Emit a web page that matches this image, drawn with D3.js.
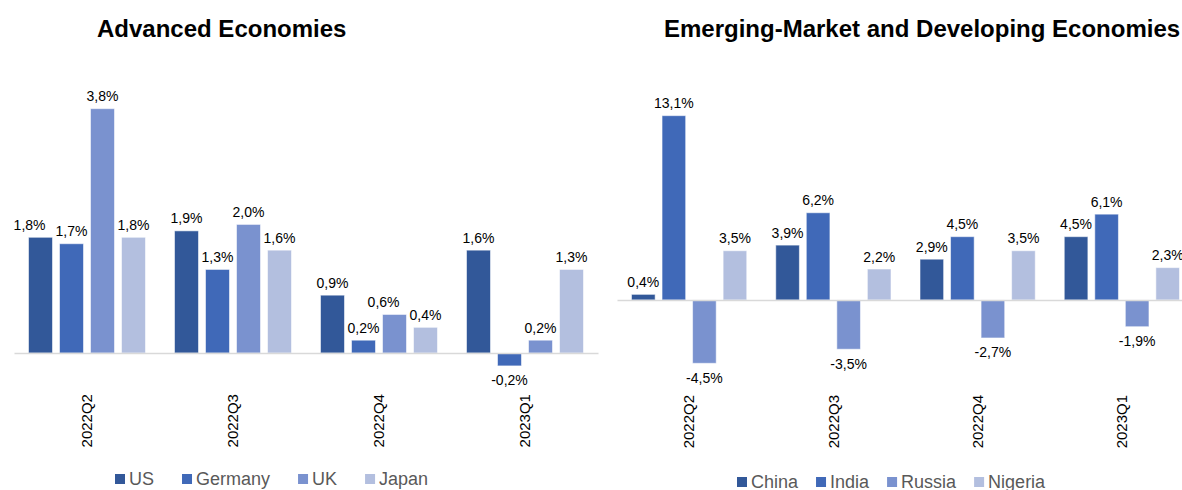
<!DOCTYPE html>
<html>
<head>
<meta charset="utf-8">
<script src="https://cdn.jsdelivr.net/npm/d3@7"></script>
<style>
  html, body { margin: 0; padding: 0; background: #fff; }
  svg { display: block; font-family: "Liberation Sans", Arial, sans-serif; }
</style>
</head>
<body>
<svg id="chart" width="1182" height="490"></svg>
<script>
// Quarter-on-quarter real GDP growth, %
const quarters = ["2022Q2", "2022Q3", "2022Q4", "2023Q1"];

const advancedNames = ["US", "Germany", "UK", "Japan"];
const usGrowth      = [1.8, 1.9, 0.9, 1.6];
const germanyGrowth = [1.7, 1.3, 0.2, -0.2];
const ukGrowth      = [3.8, 2.0, 0.6, 0.2];
const japanGrowth   = [1.8, 1.6, 0.4, 1.3];

const emergingNames = ["China", "India", "Russia", "Nigeria"];
const chinaGrowth   = [0.4, 3.9, 2.9, 4.5];
const indiaGrowth   = [13.1, 6.2, 4.5, 6.1];
const russiaGrowth  = [-4.5, -3.5, -2.7, -1.9];
const nigeriaGrowth = [3.5, 2.2, 3.5, 2.3];

const seriesColors = ["#325899", "#4069B8", "#7A92CF", "#B3BFDF"];

const svg = d3.select("#chart");

const fmt = v => (v < 0 ? "-" : "") + Math.abs(v).toFixed(1).replace(".", ",") + "%";

function drawPanel(opts) {
  const { title, titleX, names, values, xRange, yDomain, yRange,
          labelOffset, legendX, legendY, legendGap } = opts;
  const g = svg.append("g");

  const x0 = d3.scaleBand().domain(quarters).range(xRange);
  const groupPad = 14.5;
  const x1 = d3.scaleBand().domain(names)
    .range([groupPad, x0.bandwidth() - groupPad])
    .paddingInner(0.226).paddingOuter(0);
  const y = d3.scaleLinear().domain(yDomain).range(yRange);

  // title
  g.append("text")
    .attr("x", titleX).attr("y", 37)
    .attr("font-size", 24).attr("font-weight", "bold").attr("fill", "#000")
    .text(title);

  // bars
  const rows = [];
  quarters.forEach((q, qi) => {
    names.forEach((n, si) => {
      rows.push({ q, qi, n, si, v: values[si][qi] });
    });
  });

  g.append("g").selectAll("rect").data(rows).join("rect")
    .attr("x", d => x0(d.q) + x1(d.n))
    .attr("width", x1.bandwidth())
    .attr("y", d => y(Math.max(0, d.v)))
    .attr("height", d => Math.abs(y(d.v) - y(0)))
    .attr("fill", d => seriesColors[d.si])
    .attr("stroke", "#ffffff").attr("stroke-opacity", 0.55).attr("stroke-width", 1);

  // category axis along the zero line
  const axis = g.append("g")
    .attr("transform", `translate(0,${y(0)})`)
    .call(d3.axisBottom(x0).tickSize(0).tickSizeOuter(0));
  axis.select(".domain").attr("stroke", "#D9D9D9").attr("stroke-width", 1.5);
  axis.selectAll(".tick text")
    .attr("font-family", "\"Liberation Sans\", Arial, sans-serif")
    .attr("font-size", 15).attr("fill", "#000")
    .attr("transform", "rotate(-90)")
    .attr("text-anchor", "end")
    .attr("x", -labelOffset).attr("y", 0).attr("dy", "0.35em");

  // value labels
  const labels = g.append("g").selectAll("text").data(rows).join("text")
    .attr("font-size", 14).attr("fill", "#000").attr("text-anchor", "middle")
    .attr("x", d => x0(d.q) + x1(d.n) + x1.bandwidth() / 2)
    .attr("y", d => d.v >= 0 ? y(d.v) - 7.5 : y(d.v) + 19.5)
    .text(d => fmt(d.v));

  // nudge a label sideways when it collides with its right-hand neighbour
  const nodes = labels.nodes();
  for (let i = 0; i < nodes.length - 1; i++) {
    const a = rows[i], b = rows[i + 1];
    if (a.qi !== b.qi) continue;
    const ba = nodes[i].getBBox(), bb = nodes[i + 1].getBBox();
    const hOverlap = ba.x + ba.width - bb.x;
    const vOverlap = Math.min(ba.y + ba.height, bb.y + bb.height) - Math.max(ba.y, bb.y);
    if (hOverlap > 0 && vOverlap > 0) {
      const cx = +nodes[i].getAttribute("x");
      nodes[i].setAttribute("x", cx - (hOverlap + 10));
    }
  }

  // legend
  const leg = g.append("g");
  let lx = legendX;
  names.forEach((n, i) => {
    leg.append("rect")
      .attr("x", lx).attr("y", legendY - 11).attr("width", 10).attr("height", 10)
      .attr("fill", seriesColors[i]);
    const t = leg.append("text")
      .attr("x", lx + 14).attr("y", legendY)
      .attr("font-size", 18).attr("fill", "#595959")
      .text(n);
    lx += 14 + t.node().getComputedTextLength() + legendGap;
  });
}

drawPanel({
  title: "Advanced Economies",
  titleX: 97,
  names: advancedNames,
  values: [usGrowth, germanyGrowth, ukGrowth, japanGrowth],
  xRange: [14, 598],
  yDomain: [-0.5, 4],
  yRange: [385.2, 95.8],
  labelOffset: 41,
  legendX: 115, legendY: 485, legendGap: 28
});

drawPanel({
  title: "Emerging-Market and Developing Economies",
  titleX: 664,
  names: emergingNames,
  values: [chinaGrowth, indiaGrowth, russiaGrowth, nigeriaGrowth],
  xRange: [617, 1194],
  yDomain: [-6, 14],
  yRange: [384.4, 103],
  labelOffset: 95,
  legendX: 737, legendY: 488, legendGap: 18
});
</script>
</body>
</html>
